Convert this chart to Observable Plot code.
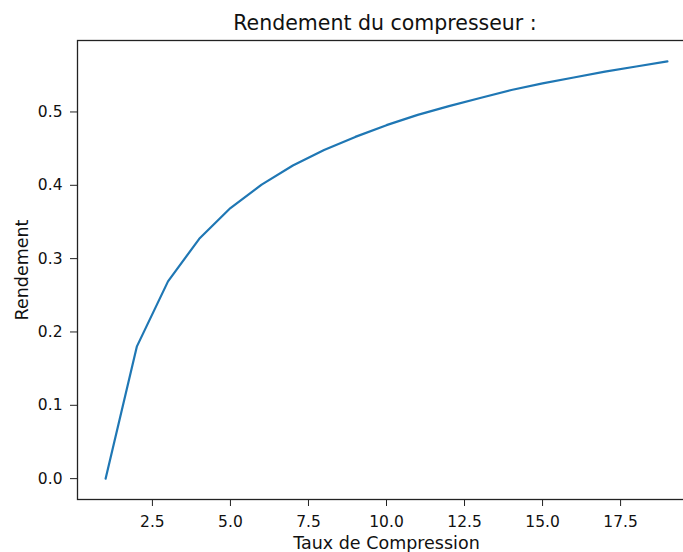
<!DOCTYPE html>
<html><head><meta charset="utf-8">
<script src="https://cdn.jsdelivr.net/npm/d3@7"></script>
<script src="https://cdn.jsdelivr.net/npm/@observablehq/plot@0.6"></script>
<style>
html,body{margin:0;padding:0;background:#fff;overflow:hidden;width:683px;height:552px}
#title{position:absolute;left:0;top:12px;width:770px;text-align:center;font-family:"DejaVu Sans";font-size:20.5px;color:#111;line-height:22px;white-space:nowrap;z-index:2}
#chart{position:absolute;left:0;top:30px;width:700px;z-index:1}
#chart svg{max-width:none !important;}
#chart g[aria-label="x-axis label"], #chart g[aria-label="y-axis label"]{font-size:17.5px !important;}
#chart g[aria-label="x-axis label"] text, #chart g[aria-label="y-axis label"] text{font-size:17.5px !important;}
</style></head>
<body>
<div id="title">Rendement du compresseur :</div>
<div id="chart"></div>
<script>
const taux = [1,2,3,4,5,6,7,8,9,10,11,12,13,14,15,16,17,18,19];
const rendement = [0.000,0.180,0.269,0.327,0.369,0.401,0.427,0.448,0.466,0.482,0.496,0.508,0.519,0.530,0.539,0.547,0.555,0.562,0.569];
const xTicks = [2.5,5.0,7.5,10.0,12.5,15.0,17.5];
const yTicks = [0.0,0.1,0.2,0.3,0.4,0.5];
const data = taux.map((t,i)=>({taux:t, rendement:rendement[i]}));

const chart = Plot.plot({
  width: 700, height: 522,
  marginLeft: 77, marginRight: 5, marginTop: 10, marginBottom: 53,
  style: {fontFamily: "DejaVu Sans", fontSize: "15.5px", color: "#111", background: "transparent", overflow: "visible"},
  x: {domain: [0.1, 19.9]},
  y: {domain: [-0.02845, 0.59745]},
  marks: [
    Plot.line(data, {x: "taux", y: "rendement", stroke: "#1f77b4", strokeWidth: 2.2}),
    Plot.axisX({ticks: xTicks, tickFormat: d3.format(".1f"), tickSize: 7, tickPadding: 9, label: "Taux de Compression", labelAnchor: "center", labelArrow: "none", labelOffset: 49, stroke: "#222"}),
    Plot.axisY({ticks: yTicks, tickFormat: d3.format(".1f"), tickSize: 7, tickPadding: 8, label: "Rendement", labelAnchor: "center", labelArrow: "none", labelOffset: 62, stroke: "#222"}),
    Plot.frame({stroke: "#222", strokeWidth: 1.3})
  ]
});
document.getElementById("chart").appendChild(chart);
</script>
</body></html>
